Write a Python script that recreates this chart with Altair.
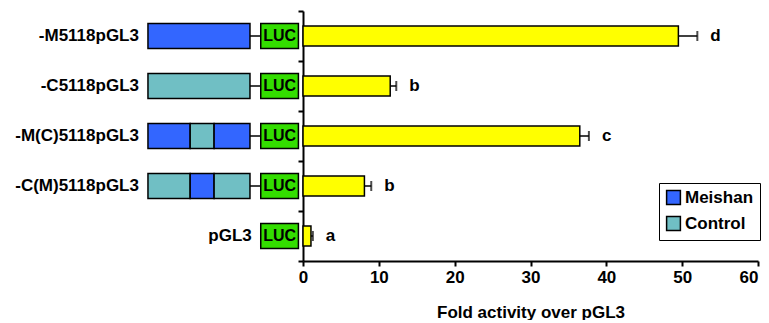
import altair as alt
import pandas as pd

# ---- data ----
constructs = ["-M5118pGL3", "-C5118pGL3", "-M(C)5118pGL3", "-C(M)5118pGL3", "pGL3"]
fold = [49.5, 11.5, 36.5, 8.1, 1.05]
fold_err = [2.5, 0.8, 1.2, 0.9, 0.25]
letters = ["d", "b", "c", "b", "a"]

# promoter composition (kb, relative to promoter end at 0)
seg_construct = ["-M5118pGL3", "-C5118pGL3",
                 "-M(C)5118pGL3", "-M(C)5118pGL3", "-M(C)5118pGL3",
                 "-C(M)5118pGL3", "-C(M)5118pGL3", "-C(M)5118pGL3"]
seg_start = [-5.118, -5.118, -5.118, -3.0, -1.8, -5.118, -3.0, -1.8]
seg_end = [0.0, 0.0, -3.0, -1.8, 0.0, -3.0, -1.8, 0.0]
seg_origin = ["Meishan", "Control", "Meishan", "Control", "Meishan",
              "Control", "Meishan", "Control"]

luc_start = 0.54
luc_end = 2.43
origins = ["Meishan", "Control"]
origin_colors = ["#3366FF", "#70BFC4"]
x_ticks = [0, 10, 20, 30, 40, 50, 60]

FONT = "Liberation Sans"

seg_df = pd.DataFrame({"construct": seg_construct, "start": seg_start,
                       "end": seg_end, "origin": seg_origin})
luc_df = pd.DataFrame({"construct": constructs,
                       "start": [luc_start] * len(constructs),
                       "end": [luc_end] * len(constructs),
                       "mid": [(luc_start + luc_end) / 2] * len(constructs),
                       "txt": ["LUC"] * len(constructs)})
has_prom = [c for c in constructs if c in seg_construct]
conn_df = pd.DataFrame({"construct": has_prom,
                        "start": [0.0] * len(has_prom),
                        "end": [luc_start] * len(has_prom)})
lab_anchor = [min([s for c2, s in zip(seg_construct, seg_start) if c2 == c] + [luc_start])
              for c in constructs]
lab_df = pd.DataFrame({"construct": constructs, "x": lab_anchor})

bar_df = pd.DataFrame({"construct": constructs, "fold": fold, "err": fold_err,
                       "hi": [f + e for f, e in zip(fold, fold_err)],
                       "letter": letters})

H = 250
yscale = alt.Scale(domain=constructs, paddingInner=0, paddingOuter=0)
ysc_left = alt.Y("construct:N", sort=constructs, scale=yscale, axis=None)
xs_left = alt.Scale(domain=[-12.14, 2.66], nice=False, zero=False)

segs = alt.Chart(seg_df).mark_bar(stroke="black", strokeWidth=1.5,
                                  height={"band": 0.5}).encode(
    x=alt.X("start:Q", scale=xs_left, axis=None),
    x2="end:Q",
    y=ysc_left,
    color=alt.Color("origin:N",
                    scale=alt.Scale(domain=origins, range=origin_colors),
                    legend=alt.Legend(orient="none", legendX=651, legendY=172,
                                      title=None, symbolType="square",
                                      symbolSize=190, symbolStrokeColor="black",
                                      symbolStrokeWidth=1.5, symbolOpacity=1,
                                      labelFont=FONT, labelFontWeight="bold",
                                      labelFontSize=17, labelColor="black",
                                      labelOffset=3, fillColor="white",
                                      strokeColor="black", padding=6,
                                      rowPadding=5, direction="vertical")),
)
conn = alt.Chart(conn_df).mark_rule(color="black", strokeWidth=1.5).encode(
    x=alt.X("start:Q", scale=xs_left, axis=None), x2="end:Q", y=ysc_left)
luc = alt.Chart(luc_df).mark_bar(color="#33DD00", stroke="black", strokeWidth=1.5,
                                 height={"band": 0.5}).encode(
    x=alt.X("start:Q", scale=xs_left, axis=None), x2="end:Q", y=ysc_left)
luc_txt = alt.Chart(luc_df).mark_text(font=FONT, fontWeight="bold", fontSize=16,
                                      color="black", align="center",
                                      baseline="middle").encode(
    x=alt.X("mid:Q", scale=xs_left, axis=None), y=ysc_left, text="txt:N")
labels = alt.Chart(lab_df).mark_text(font=FONT, fontWeight="bold", fontSize=17,
                                     color="black", align="right",
                                     baseline="middle", dx=-9).encode(
    x=alt.X("x:Q", scale=xs_left, axis=None), y=ysc_left, text="construct:N")

left = alt.layer(conn, segs, luc, luc_txt, labels).properties(width=295, height=H)

xs_right = alt.Scale(domain=[0, 60], nice=False, zero=True)
yr = alt.Y("construct:N", sort=constructs, scale=yscale,
           axis=alt.Axis(labels=False, title=None, tickBand="extent", tickSize=5,
                         tickWidth=2, tickColor="black", domainColor="black",
                         domainWidth=2, grid=False))
last_tick = "datum.value == %d" % x_ticks[-1]
xaxis = alt.Axis(values=x_ticks, title="Fold activity over pGL3",
                 grid=False, domainColor="black", domainWidth=2, tickColor="black",
                 tickWidth=2, tickSize=5, labelFont=FONT, labelFontWeight="bold",
                 labelFontSize=17, labelColor="black", labelPadding=3,
                 labelFlush=False,
                 labelAlign={"condition": {"test": last_tick, "value": "right"},
                             "value": "center"},
                 titleFont=FONT, titleFontWeight="bold",
                 titleFontSize=17, titleColor="black", titlePadding=19)

bars = alt.Chart(bar_df).mark_bar(color="#FFFF00", stroke="black", strokeWidth=1.5,
                                  height={"band": 0.4}).encode(
    x=alt.X("fold:Q", scale=xs_right, axis=xaxis), y=yr)
err_line = alt.Chart(bar_df).mark_rule(color="black", strokeWidth=1.5).encode(
    x=alt.X("fold:Q", scale=xs_right), x2="hi:Q", y=yr)
caps = alt.Chart(bar_df).mark_tick(color="black", size=10, thickness=2).encode(
    x=alt.X("hi:Q", scale=xs_right), y=yr)
lets = alt.Chart(bar_df).mark_text(font=FONT, fontWeight="bold", fontSize=17,
                                   color="black", align="left", baseline="middle",
                                   dx=13).encode(
    x=alt.X("hi:Q", scale=xs_right), y=yr, text="letter:N")

right = alt.layer(bars, err_line, caps, lets).properties(width=455, height=H)

chart = alt.hconcat(left, right, spacing=0, bounds="flush").properties(
    padding={"left": 0, "top": 2, "right": 0, "bottom": 0}
).configure_view(stroke=None)

chart.save("out.html", embed_options={"renderer": "svg", "actions": False})
